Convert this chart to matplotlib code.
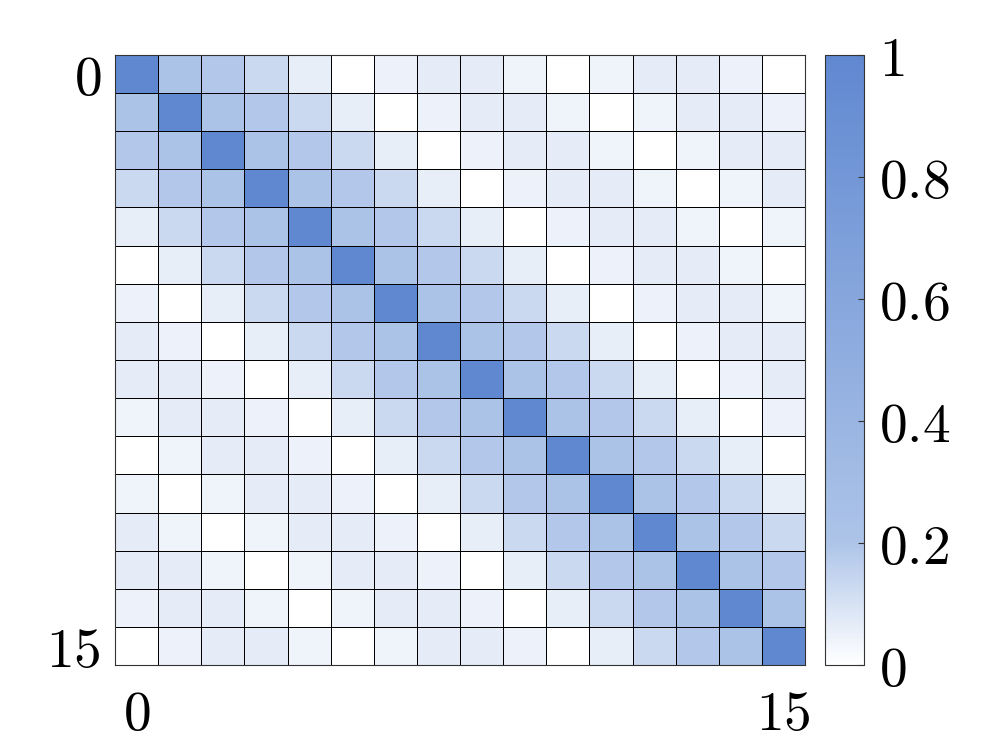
import numpy as np
import matplotlib
matplotlib.use("Agg")
import matplotlib.pyplot as plt
from matplotlib.colors import LinearSegmentedColormap

plt.rcParams['mathtext.fontset'] = 'cm'
plt.rcParams['font.family'] = 'DejaVu Serif'

# Matrix values (row 0 at top)
matrix = [
    [1.00, 0.22, 0.19, 0.13, 0.06, 0.00, 0.046, 0.066, 0.066, 0.04, 0.00, 0.04, 0.066, 0.066, 0.046, 0.00],
    [0.22, 1.00, 0.22, 0.19, 0.13, 0.06, 0.00, 0.046, 0.066, 0.066, 0.04, 0.00, 0.04, 0.066, 0.066, 0.046],
    [0.19, 0.22, 1.00, 0.22, 0.19, 0.13, 0.06, 0.00, 0.046, 0.066, 0.066, 0.04, 0.00, 0.04, 0.066, 0.066],
    [0.13, 0.19, 0.22, 1.00, 0.22, 0.19, 0.13, 0.06, 0.00, 0.046, 0.066, 0.066, 0.04, 0.00, 0.04, 0.066],
    [0.06, 0.13, 0.19, 0.22, 1.00, 0.22, 0.19, 0.13, 0.06, 0.00, 0.046, 0.066, 0.066, 0.04, 0.00, 0.04],
    [0.00, 0.06, 0.13, 0.19, 0.22, 1.00, 0.22, 0.19, 0.13, 0.06, 0.00, 0.046, 0.066, 0.066, 0.04, 0.00],
    [0.046, 0.00, 0.06, 0.13, 0.19, 0.22, 1.00, 0.22, 0.19, 0.13, 0.06, 0.00, 0.046, 0.066, 0.066, 0.04],
    [0.066, 0.046, 0.00, 0.06, 0.13, 0.19, 0.22, 1.00, 0.22, 0.19, 0.13, 0.06, 0.00, 0.046, 0.066, 0.066],
    [0.066, 0.066, 0.046, 0.00, 0.06, 0.13, 0.19, 0.22, 1.00, 0.22, 0.19, 0.13, 0.06, 0.00, 0.046, 0.066],
    [0.04, 0.066, 0.066, 0.046, 0.00, 0.06, 0.13, 0.19, 0.22, 1.00, 0.22, 0.19, 0.13, 0.06, 0.00, 0.046],
    [0.00, 0.04, 0.066, 0.066, 0.046, 0.00, 0.06, 0.13, 0.19, 0.22, 1.00, 0.22, 0.19, 0.13, 0.06, 0.00],
    [0.04, 0.00, 0.04, 0.066, 0.066, 0.046, 0.00, 0.06, 0.13, 0.19, 0.22, 1.00, 0.22, 0.19, 0.13, 0.06],
    [0.066, 0.04, 0.00, 0.04, 0.066, 0.066, 0.046, 0.00, 0.06, 0.13, 0.19, 0.22, 1.00, 0.22, 0.19, 0.13],
    [0.066, 0.066, 0.04, 0.00, 0.04, 0.066, 0.066, 0.046, 0.00, 0.06, 0.13, 0.19, 0.22, 1.00, 0.22, 0.19],
    [0.046, 0.066, 0.066, 0.04, 0.00, 0.04, 0.066, 0.066, 0.046, 0.00, 0.06, 0.13, 0.19, 0.22, 1.00, 0.22],
    [0.00, 0.046, 0.066, 0.066, 0.04, 0.00, 0.04, 0.066, 0.066, 0.046, 0.00, 0.06, 0.13, 0.19, 0.22, 1.00],
]
axis_ticks = [0, 15]
axis_labels = ["0", "15"]
cbar_ticks = [0, 0.2, 0.4, 0.6, 0.8, 1.0]
cbar_labels = ["0", "0.2", "0.4", "0.6", "0.8", "1"]

data = np.array(matrix)
n = data.shape[0]

cmap = LinearSegmentedColormap.from_list(
    "bluemap", [(0.0, "#ffffff"), (0.2, "#adc4e8"), (1.0, "#6088d1")])

fig = plt.figure(figsize=(9.96, 7.47), dpi=100)
W, H = 996, 747
ax = fig.add_axes([115 / W, 1 - 665 / H, (805 - 115) / W, (665 - 55) / H])
cax = fig.add_axes([825 / W, 1 - 665 / H, (864 - 825) / W, (665 - 55) / H])

mesh = ax.pcolormesh(np.arange(n + 1), np.arange(n + 1), data, cmap=cmap,
                     vmin=0, vmax=1, edgecolors="black", linewidth=0.7)
ax.set_xlim(0, n)
ax.set_ylim(n, 0)
ax.set_xticks([t + 0.5 for t in axis_ticks])
ax.set_yticks([t + 0.5 for t in axis_ticks])
ax.set_xticklabels(["$%s$" % s for s in axis_labels], fontsize=40)
ax.set_yticklabels(["$%s$" % s for s in axis_labels], fontsize=40)
ax.tick_params(axis="x", length=0, pad=16)
ax.tick_params(axis="y", length=0, pad=10)
for sp in ax.spines.values():
    sp.set_color("#333333")
    sp.set_linewidth(0.8)

cb = fig.colorbar(mesh, cax=cax)
cb.set_ticks(cbar_ticks)
cb.set_ticklabels(["$%s$" % s for s in cbar_labels])
cax.tick_params(labelsize=40, direction="in", length=4, width=0.8,
                color="#333333", pad=11)
cb.outline.set_edgecolor("#333333")
cb.outline.set_linewidth(0.8)

fig.savefig("out.png", dpi=100)
